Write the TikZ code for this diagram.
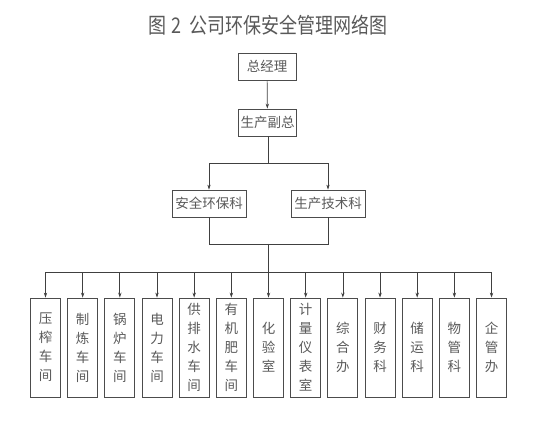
\documentclass[tikz,border=0pt]{standalone}
\usepackage{fontspec}
\newfontfamily\cjk{Noto Sans CJK SC}
\usetikzlibrary{arrows.meta}
\begin{document}
\begin{tikzpicture}[x=1pt,y=-1pt,
  box/.style={draw=black!70, line width=0.8pt, text=black!65, font=\cjk\fontsize{13.5}{19}\selectfont, inner sep=0pt, align=center},
  hbox/.style={box, minimum width=58pt, minimum height=27pt},
  wbox/.style={box, minimum width=74pt, minimum height=27pt},
  vbox/.style={box, minimum width=30pt, minimum height=99pt},
  conn/.style={draw=black!75, line width=0.7pt},
  arr/.style={conn, -{Stealth[length=5pt,width=3.4pt]}}]
\useasboundingbox (0,0) rectangle (554,435);
\node[text=black!65, font=\cjk\fontsize{20}{24}\selectfont] (title) at (268,25) {\scalebox{0.9}[1.08]{图\hspace{6pt}2\hspace{9pt}公司环保安全管理网络图}};
\node[hbox] (gm) at (267,66.5) {总经理};
\node[hbox] (vp) at (267.5,122.5) {生产副总};
\node[wbox] (aq) at (209,203.5) {安全环保科};
\node[wbox] (tech) at (328,203.5) {生产技术科};
\coordinate (j1) at (268,163);
\coordinate (j2) at (268,244);
\coordinate (bus) at (268,272);
\draw[arr] (gm) -- (vp);
\draw[conn] (vp.south -| j1) -- (j1);
\draw[arr] (j1) -| (aq);
\draw[arr] (j1) -| (tech);
\draw[conn] (aq) |- (j2);
\draw[conn] (tech) |- (j2);
\draw[conn] (j2) -- (bus);
\foreach \t [count=\i from 0] in {{压\\榨\\车\\间},{制\\炼\\车\\间},{锅\\炉\\车\\间},{电\\力\\车\\间},{供\\排\\水\\车\\间},{有\\机\\肥\\车\\间},{化\\验\\室},{计\\量\\仪\\表\\室},{综\\合\\办},{财\\务\\科},{储\\运\\科},{物\\管\\科},{企\\管\\办}}{
  \node[vbox] (b\i) at ({45.5+37.17*\i},347.5) {\t};
  \draw[arr] (bus) -| (b\i);
}
\end{tikzpicture}
\end{document}
